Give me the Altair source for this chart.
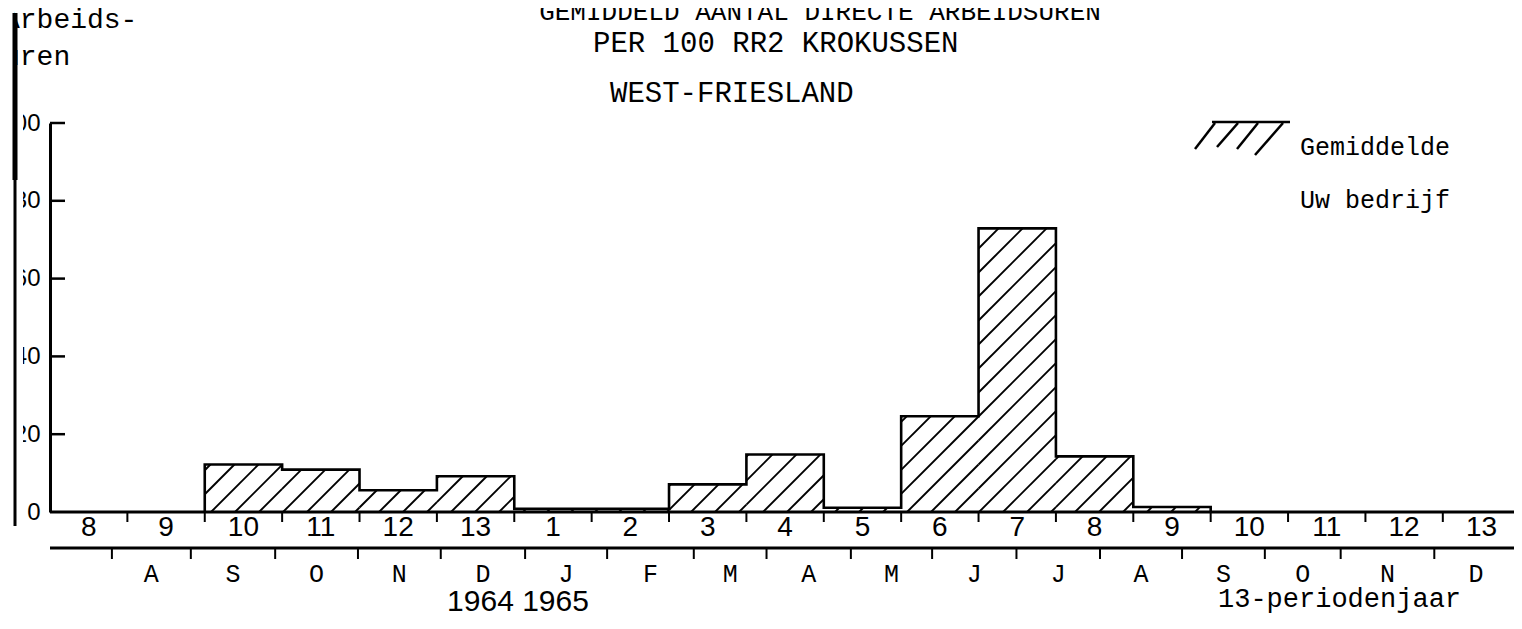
import altair as alt
import pandas as pd
import numpy as np

# ---------------- data ----------------
period_labels = ["8", "9", "10", "11", "12", "13",
                 "1", "2", "3", "4", "5", "6", "7", "8", "9", "10", "11", "12", "13"]
hours = [0, 0, 12.2, 10.9, 5.6, 9.2,
         0.8, 0.8, 7.1, 14.8, 1.1, 24.6, 72.9, 14.3, 1.3, 0, 0, 0, 0]
y_ticks = [0, 20, 40, 60, 80, 100]
month_labels = ["A", "S", "O", "N", "D", "J", "F", "M", "A", "M", "J", "J", "A", "S", "O", "N", "D"]
month_edges = [0.80, 1.82, 2.91, 3.98, 5.05, 6.14, 7.20, 8.32, 9.26, 10.35,
               11.40, 12.49, 13.57, 14.63, 15.70, 16.68, 17.89, 18.97]

title1 = "GEMIDDELD AANTAL DIRECTE ARBEIDSUREN"
title2 = "PER 100 RR2 KROKUSSEN"
title3 = "WEST-FRIESLAND"
ylab1, ylab2 = "Arbeids-", "uren"
legend1, legend2 = "Gemiddelde", "Uw bedrijf"
years_text = "1964 1965"
period_text = "13-periodenjaar"

# ---------------- layout ----------------
W, H = 1464, 389
XMAX = 18.92
MONO = "Liberation Mono"
SANS = "Liberation Sans"
HATCH_STEP = 24.0  # px between hatch lines (vertical)

xs = alt.Scale(domain=[0, XMAX], nice=False, zero=False)
ys = alt.Scale(domain=[0, 100], nice=False)

n = len(hours)
px = W / XMAX
py = H / 100.0

# hatch segments (45 degrees in screen space), clipped to each bar
segs = []
ks = np.arange(-int(n * px / HATCH_STEP) - 2, int(H / HATCH_STEP) + 2)
for i, v in enumerate(hours):
    if v <= 0:
        continue
    x0, x1 = i * px, (i + 1) * px
    top = v * py
    for k in ks:
        b = k * HATCH_STEP + 7
        lo = max(x0, -b)
        hi = min(x1, top - b)
        if hi - lo > 0.5:
            segs.append({"x": lo / px, "y": (lo + b) / py, "x2": hi / px, "y2": (hi + b) / py})
hatch_df = pd.DataFrame(segs)

# outline (step contour)
nz = [i for i, v in enumerate(hours) if v > 0]
pts = [(nz[0], 0.0)]
for i in range(nz[0], nz[-1] + 1):
    pts.append((i, hours[i]))
    pts.append((i + 1, hours[i]))
pts.append((nz[-1] + 1, 0.0))
outline_df = pd.DataFrame({"x": [p[0] for p in pts], "y": [p[1] for p in pts], "o": range(len(pts))})

hatch = alt.Chart(hatch_df).mark_rule(color="black", strokeWidth=1.9).encode(
    x=alt.X("x:Q", scale=xs, axis=None),
    y=alt.Y("y:Q", scale=ys, axis=alt.Axis(values=y_ticks, ticks=False, grid=False, domain=True,
                                           domainColor="black", domainWidth=3, labelFont=SANS,
                                           labelFontSize=24, labelColor="black", labelPadding=10,
                                           zindex=0, title=None)),
    x2="x2:Q", y2="y2:Q",
)

outline = alt.Chart(outline_df).mark_line(color="black", strokeWidth=2.6, interpolate="linear").encode(
    x=alt.X("x:Q", scale=xs, axis=None),
    y=alt.Y("y:Q", scale=ys),
    order="o:Q",
)

ytick_df = pd.DataFrame({"v": y_ticks[1:]})
yticks = alt.Chart(ytick_df).mark_rule(color="black", strokeWidth=2.5).encode(
    y=alt.Y("v:Q", scale=ys), x=alt.value(0), x2=alt.value(15))

# baseline and second axis line
lines_df = pd.DataFrame({"yy": [H, H + 36]})
hlines = alt.Chart(lines_df).mark_rule(color="black", strokeWidth=3).encode(
    y=alt.Y("yy:Q", scale=None), x=alt.value(0), x2=alt.value(W))

# period ticks & labels
pedge_df = pd.DataFrame({"e": list(range(1, n + 1))})
pticks = alt.Chart(pedge_df).mark_rule(color="black", strokeWidth=2).encode(
    x=alt.X("e:Q", scale=xs), y=alt.value(H), y2=alt.value(H + 10))
plab_df = pd.DataFrame({"m": [i + 0.5 for i in range(n)], "t": period_labels})
plabs = alt.Chart(plab_df).mark_text(font=SANS, fontSize=28, baseline="middle", align="center",
                                     color="black").encode(
    x=alt.X("m:Q", scale=xs), y=alt.value(H + 16), text="t:N")

# month ticks & labels
medge_df = pd.DataFrame({"e": month_edges})
mticks = alt.Chart(medge_df).mark_rule(color="black", strokeWidth=2).encode(
    x=alt.X("e:Q", scale=xs), y=alt.value(H + 36), y2=alt.value(H + 47))
mlab_df = pd.DataFrame({"m": [(month_edges[i] + month_edges[i + 1]) / 2 for i in range(len(month_labels))],
                        "t": month_labels})
mlabs = alt.Chart(mlab_df).mark_text(font=MONO, fontSize=25, baseline="middle", align="center",
                                     color="black").encode(
    x=alt.X("m:Q", scale=xs), y=alt.value(H + 62), text="t:N")


def txt(t, x, y, size, font=MONO, align="left", baseline="alphabetic"):
    return alt.Chart(pd.DataFrame({"t": [t]})).mark_text(
        font=font, fontSize=size, align=align, baseline=baseline, color="black"
    ).encode(x=alt.value(x), y=alt.value(y), text="t:N")


texts = [
    txt(title1, 770, -103, 26, align="center"),
    txt(title2, 543, -71, 29),
    txt(title3, 560, -21, 29),
    txt(ylab1, -47, -95, 28),
    txt(ylab2, -47, -58, 28),
    txt(legend1, 1250, 32, 25),
    txt(legend2, 1250, 85, 25),
    txt(years_text, 468, 479, 30, font=SANS, align="center", baseline="middle"),
    txt(period_text, 1168, 484, 27),
]

# legend hatch symbol (pixel positions relative to plot origin)
leg_df = pd.DataFrame({
    "x": [1162, 1145, 1167, 1187, 1205],
    "y": [-1, 26, 24, 26, 32],
    "x2": [1240, 1165, 1188, 1208, 1233],
    "y2": [-1, 0, 0, 0, 0],
})
legend_sym = alt.Chart(leg_df).mark_rule(color="black", strokeWidth=2.5).encode(
    x=alt.X("x:Q", scale=None), y=alt.Y("y:Q", scale=None),
    x2="x2:Q", y2="y2:Q")

# scanned page edge: blank strip left of a dark vertical bar
mask = alt.Chart(pd.DataFrame({"a": [0]})).mark_rect(color="white").encode(
    x=alt.value(-50), x2=alt.value(-36), y=alt.value(-123), y2=alt.value(490))
mask2 = alt.Chart(pd.DataFrame({"a": [0]})).mark_rect(color="white").encode(
    x=alt.value(-36), x2=alt.value(-27), y=alt.value(-23), y2=alt.value(407))
edge_top = alt.Chart(pd.DataFrame({"a": [0]})).mark_rule(color="black", strokeWidth=5).encode(
    x=alt.value(-35), y=alt.value(-110), y2=alt.value(57))
edge_bot = alt.Chart(pd.DataFrame({"a": [0]})).mark_rule(color="black", strokeWidth=3).encode(
    x=alt.value(-35), y=alt.value(57), y2=alt.value(403))

chart = alt.layer(
    hatch, outline, yticks, hlines, pticks, plabs, mticks, mlabs, legend_sym, *texts,
    mask, mask2, edge_top, edge_bot
).properties(
    width=W, height=H,
    background="white",
    autosize=alt.AutoSizeParams(type="none"),
    padding={"left": 42, "top": 115, "right": 0, "bottom": 101},
).configure_view(stroke=None)

chart.save("out.html", embed_options={"renderer": "svg", "actions": False})
